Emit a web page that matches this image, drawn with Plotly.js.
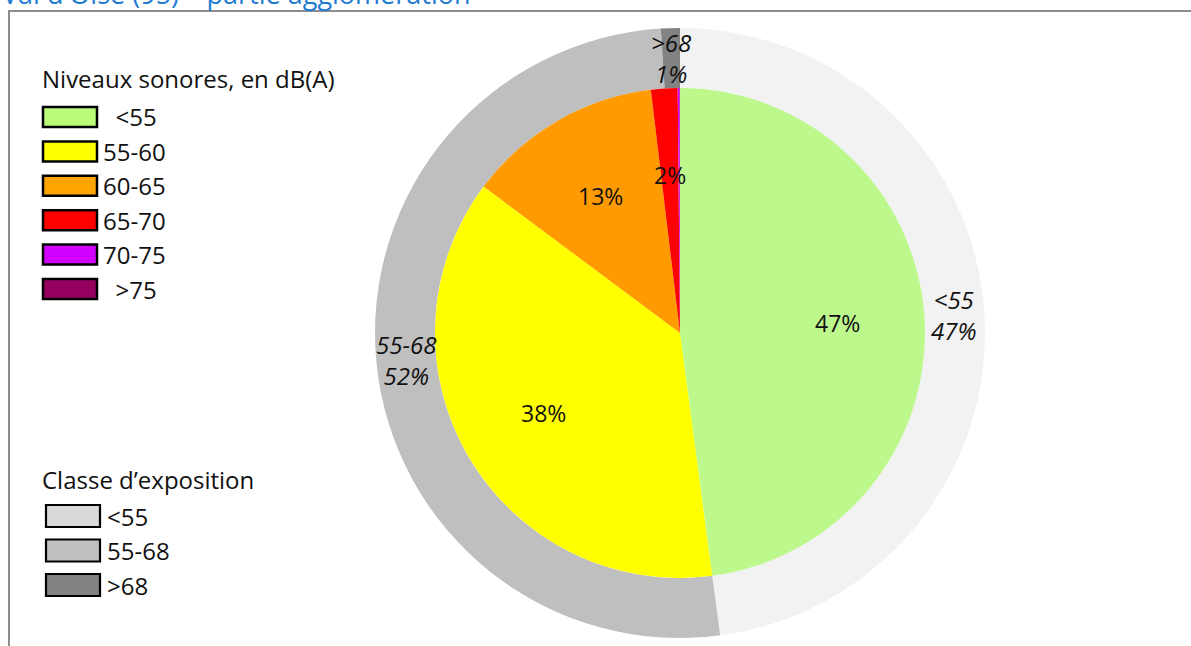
<!DOCTYPE html>
<html>
<head>
<meta charset="utf-8">
<script src="https://cdn.plot.ly/plotly-3.0.1.min.js"></script>
<style>html,body{margin:0;padding:0;background:#fff;}#chart{width:1191px;height:646px;}</style>
</head>
<body>
<div id="chart"></div>
<script>
// ---- data ----
const chartTitle = "Val d'Oise (95) – partie agglomération";
const noiseLevels = ["<55", "55-60", "60-65", "65-70", "70-75", ">75"];
const noiseShares = [47.9, 37.3, 12.9, 1.75, 0.12, 0.03];
const noiseLabels = ["47%", "38%", "13%", "2%", "", ""];
const exposureClasses = ["<55", "55-68", ">68"];
const exposureShares = [47.9, 51.1, 1.0];
const exposureLabels = ["47%", "52%", "1%"];
const noiseLegendTitle = "Niveaux sonores, en dB(A)";
const exposureLegendTitle = "Classe d’exposition";

// ---- styles ----
const noiseColors = ["#bdf88c", "#ffff00", "#ff9a00", "#ff0000", "#d200ff", "#990066"];
const noiseLegendColors = ["#b9fd78", "#ffff00", "#ffa500", "#ff0000", "#d200ff", "#96005f"];
const exposureColors = ["#f2f2f2", "#bfbfbf", "#828282"];
const exposureLegendColors = ["#d9d9d9", "#c0c0c0", "#828282"];

const W = 1191, H = 646;
const CX = 680, CY = 333, R_OUT = 305, R_IN = 245;
const FONT = "Open Sans, Noto Sans, sans-serif";

function px(x) { return x / W; }
function py(y) { return 1 - y / H; }
function dom(r) {
  return { x: [px(CX - r), px(CX + r)], y: [py(CY + r), py(CY - r)] };
}
function esc(s) { return s.replace(/</g, "&lt;").replace(/>/g, "&gt;"); }

const traces = [
  {
    type: "pie", values: exposureShares, labels: exposureClasses,
    marker: { colors: exposureColors, line: { width: 0 } },
    hole: R_IN / R_OUT, sort: false, direction: "clockwise", rotation: 0,
    textinfo: "none", hoverinfo: "none", domain: dom(R_OUT), showlegend: false
  },
  {
    type: "pie", values: noiseShares, labels: noiseLevels,
    marker: { colors: noiseColors, line: { width: 0 } },
    sort: false, direction: "clockwise", rotation: 0,
    textinfo: "none", hoverinfo: "none", domain: dom(R_IN), showlegend: false
  }
];

const annotations = [];
const shapes = [];

// data labels placed at slice mid-angles computed from the values
function sliceLabels(values, texts, radius, makeText, size) {
  const total = values.reduce((a, b) => a + b, 0);
  let cum = 0;
  values.forEach((v, i) => {
    const mid = (cum + v / 2) / total * 2 * Math.PI;
    cum += v;
    if (!texts[i]) return;
    const x = CX + radius * Math.sin(mid);
    const y = CY - radius * Math.cos(mid);
    annotations.push({
      xref: "paper", yref: "paper", x: px(x), y: py(y),
      xanchor: "center", yanchor: "middle", showarrow: false,
      text: makeText(i), font: { family: FONT, size: size, color: "#111" }
    });
  });
}
sliceLabels(noiseShares, noiseLabels, R_IN * 0.645, i => noiseLabels[i], 23);
sliceLabels(exposureShares, exposureLabels, (R_IN + R_OUT) / 2,
  i => "<i>" + esc(exposureClasses[i]) + "<br>" + exposureLabels[i] + "</i>", 24);

// chart title (cut at the top, as in the reference)
annotations.push({
  xref: "paper", yref: "paper", x: px(0), y: py(14), xanchor: "left", yanchor: "bottom",
  showarrow: false, text: chartTitle, font: { family: FONT, size: 27, color: "#1f7bd2" }
});

// frame
shapes.push({ type: "rect", xref: "paper", yref: "paper",
  x0: px(9), x1: px(1300), y0: py(11), y1: py(800),
  line: { color: "#8c8c8c", width: 2 }, fillcolor: "rgba(0,0,0,0)" });

// legend 1
annotations.push({ xref: "paper", yref: "paper", x: px(40), y: py(79), xanchor: "left", yanchor: "middle",
  showarrow: false, text: noiseLegendTitle, font: { family: FONT, size: 24, color: "#111" } });
noiseLevels.forEach((lab, i) => {
  const yc = 117 + i * 34.4;
  shapes.push({ type: "rect", xref: "paper", yref: "paper",
    x0: px(43), x1: px(97), y0: py(yc + 10), y1: py(yc - 10),
    line: { color: "#000", width: 2.5 }, fillcolor: noiseLegendColors[i] });
  const pad = (lab.length === 3) ? "\u00a0\u00a0" : "";
  annotations.push({ xref: "paper", yref: "paper", x: px(101), y: py(yc), xanchor: "left", yanchor: "middle",
    showarrow: false, text: pad + esc(lab), font: { family: FONT, size: 24, color: "#111" } });
});

// legend 2
annotations.push({ xref: "paper", yref: "paper", x: px(40), y: py(479), xanchor: "left", yanchor: "middle",
  showarrow: false, text: exposureLegendTitle, font: { family: FONT, size: 24, color: "#111" } });
exposureClasses.forEach((lab, i) => {
  const yc = 516 + i * 34.5;
  shapes.push({ type: "rect", xref: "paper", yref: "paper",
    x0: px(46), x1: px(100), y0: py(yc + 11), y1: py(yc - 11),
    line: { color: "#000", width: 2.2 }, fillcolor: exposureLegendColors[i] });
  annotations.push({ xref: "paper", yref: "paper", x: px(105), y: py(yc), xanchor: "left", yanchor: "middle",
    showarrow: false, text: esc(lab), font: { family: FONT, size: 24, color: "#111" } });
});

const layout = {
  width: W, height: H, margin: { l: 0, r: 0, t: 0, b: 0 },
  paper_bgcolor: "#fff", plot_bgcolor: "#fff", showlegend: false, hovermode: false,
  annotations: annotations, shapes: shapes
};
Plotly.newPlot("chart", traces, layout, { staticPlot: true, displayModeBar: false });
</script>
</body>
</html>
